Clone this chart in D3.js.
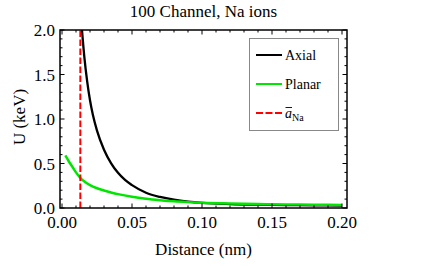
<!DOCTYPE html>
<html><head><meta charset="utf-8">
<script src="https://cdn.jsdelivr.net/npm/d3@7"></script>
<style>body{margin:0;background:#fff}svg{display:block}text{font-family:"Liberation Serif","Times New Roman",serif;fill:#000}</style>
</head><body>
<script>
const title = "100 Channel, Na ions";
const xTicks = [0, 0.05, 0.10, 0.15, 0.20];
const xTickLabels = ["0.00", "0.05", "0.10", "0.15", "0.20"];
const yTicks = [0, 0.5, 1.0, 1.5, 2.0];
const yTickLabels = ["0.0", "0.5", "1.0", "1.5", "2.0"];
const axialD = [0.014, 0.016, 0.018, 0.020, 0.022, 0.025, 0.030, 0.035, 0.040, 0.045, 0.050, 0.060, 0.070, 0.080, 0.090, 0.100, 0.120, 0.140, 0.160, 0.180, 0.200];
const axialU = [2.05, 1.69, 1.42, 1.21, 1.05, 0.87, 0.655, 0.505, 0.395, 0.315, 0.257, 0.172, 0.124, 0.093, 0.072, 0.058, 0.044, 0.037, 0.033, 0.030, 0.028];
const planarD = [0.0024, 0.005, 0.0075, 0.010, 0.0131, 0.016, 0.020, 0.025, 0.030, 0.035, 0.040, 0.050, 0.060, 0.070, 0.080, 0.090, 0.100, 0.120, 0.140, 0.160, 0.180, 0.200];
const planarU = [0.59, 0.52, 0.46, 0.40, 0.337, 0.297, 0.257, 0.222, 0.196, 0.175, 0.156, 0.126, 0.104, 0.088, 0.075, 0.066, 0.059, 0.050, 0.044, 0.040, 0.037, 0.034];
const aNa = 0.0131;

const W = 426, H = 266;
const svg = d3.select("body").append("svg").attr("width", W).attr("height", H);
const L = 60, R = 347, T = 30, B = 208;
const x = d3.scaleLinear().domain([-2/1400, 285/1400]).range([L, R]);
const y = d3.scaleLinear().domain([0, 2]).range([B, T]);

svg.append("defs").append("clipPath").attr("id", "clip")
  .append("rect").attr("x", L).attr("y", T).attr("width", R - L).attr("height", B - T);

const plot = svg.append("g").attr("clip-path", "url(#clip)");
const line = d3.line().x(d => x(d[0])).y(d => y(d[1])).curve(d3.curveMonotoneX);
plot.append("path").datum(axialD.map((d, i) => [d, axialU[i]]))
  .attr("d", line).attr("fill", "none").attr("stroke", "#000").attr("stroke-width", 2.3);
plot.append("path").datum(planarD.map((d, i) => [d, planarU[i]]))
  .attr("d", line).attr("fill", "none").attr("stroke", "#00e600").attr("stroke-width", 2.5);
plot.append("line").attr("x1", x(aNa)).attr("x2", x(aNa)).attr("y1", B).attr("y2", T)
  .attr("stroke", "#ff0000").attr("stroke-width", 2).attr("stroke-dasharray", "6.5,2.5");

// frame
svg.append("rect").attr("x", L).attr("y", T).attr("width", R - L).attr("height", B - T)
  .attr("fill", "none").attr("stroke", "#000").attr("stroke-width", 1.5);

// ticks
const minorX = d3.range(0, 0.2001, 0.01);
const minorY = d3.range(0, 2.001, 0.1);
const tk = svg.append("g").attr("stroke", "#000").attr("stroke-width", 1);
minorX.forEach(v => {
  const major = xTicks.some(t => Math.abs(t - v) < 1e-6);
  const len = major ? 4.5 : 2.5;
  tk.append("line").attr("x1", x(v)).attr("x2", x(v)).attr("y1", B).attr("y2", B - len);
  tk.append("line").attr("x1", x(v)).attr("x2", x(v)).attr("y1", T).attr("y2", T + len);
});
minorY.forEach(v => {
  const major = yTicks.some(t => Math.abs(t - v) < 1e-6);
  const len = major ? 4.5 : 2.5;
  tk.append("line").attr("y1", y(v)).attr("y2", y(v)).attr("x1", L).attr("x2", L + len);
  tk.append("line").attr("y1", y(v)).attr("y2", y(v)).attr("x1", R).attr("x2", R - len);
});

// tick labels
xTicks.forEach((v, i) => {
  svg.append("text").attr("x", x(v)).attr("y", 228).attr("text-anchor", "middle")
    .attr("font-size", 17).text(xTickLabels[i]);
});
yTicks.forEach((v, i) => {
  svg.append("text").attr("x", 55).attr("y", y(v) + 6).attr("text-anchor", "end")
    .attr("font-size", 17).text(yTickLabels[i]);
});

// titles
svg.append("text").attr("x", (L + R) / 2).attr("y", 17).attr("text-anchor", "middle")
  .attr("font-size", 17).text(title);
svg.append("text").attr("x", (L + R) / 2).attr("y", 255).attr("text-anchor", "middle")
  .attr("font-size", 17).text("Distance (nm)");
svg.append("text").attr("transform", `translate(24.5,${(T + B) / 2 - 2}) rotate(-90)`)
  .attr("text-anchor", "middle").attr("font-size", 17).text("U (keV)");

// legend
const lg = svg.append("g");
lg.append("rect").attr("x", 249.5).attr("y", 38.5).attr("width", 89).attr("height", 92)
  .attr("fill", "#fff").attr("stroke", "#888").attr("stroke-width", 1);
const items = [
  {label: "Axial", color: "#000", dash: null, yy: 55},
  {label: "Planar", color: "#00e600", dash: null, yy: 84},
  {label: "a", color: "#ff0000", dash: "7,2.5", yy: 113}
];
items.forEach(it => {
  lg.append("line").attr("x1", 256).attr("x2", 282).attr("y1", it.yy).attr("y2", it.yy)
    .attr("stroke", it.color).attr("stroke-width", 2).attr("stroke-dasharray", it.dash);
  if (it.label === "a") {
    const t = lg.append("text").attr("x", 285).attr("y", it.yy + 5).attr("font-size", 14);
    t.append("tspan").attr("font-style", "italic").text("a");
    t.append("tspan").attr("font-size", 10).attr("dy", 3).text("Na");
    lg.append("line").attr("x1", 285.5).attr("x2", 292).attr("y1", it.yy - 5.5).attr("y2", it.yy - 5.5)
      .attr("stroke", "#000").attr("stroke-width", 0.9);
  } else {
    lg.append("text").attr("x", 285).attr("y", it.yy + 5).attr("font-size", 14).text(it.label);
  }
});
</script>
</body></html>
